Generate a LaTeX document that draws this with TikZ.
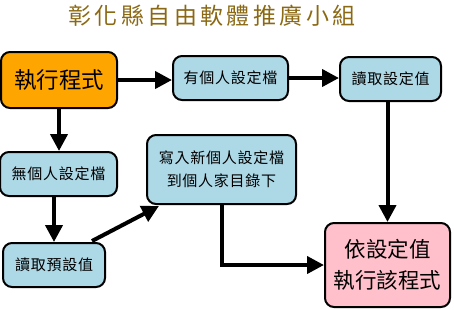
\documentclass[tikz,border=0pt]{standalone}
\usepackage{fontspec}
\setmainfont{Noto Sans CJK TC}
\usetikzlibrary{arrows.meta}
\definecolor{titlec}{HTML}{8B6914}
\definecolor{orangec}{HTML}{FFA500}
\definecolor{bluec}{HTML}{ADD8E6}
\definecolor{pinkc}{HTML}{FFC0CB}
\tikzset{
  box/.style={draw=black, line width=2pt, rounded corners=9pt, inner sep=0pt, align=center, text=black},
  smallbox/.style={box, fill=bluec, font=\fontsize{15}{23}\selectfont\addfontfeature{LetterSpace=5}},
  bigbox/.style={box, font=\fontsize{22.5}{31}\selectfont},
  conn/.style={line width=4pt, -{Triangle[length=17pt,width=17pt]}},
}
\begin{document}
\begin{tikzpicture}[x=1pt,y=-1pt]
\useasboundingbox (0,0) rectangle (454,309);
\node[text=titlec, font=\fontsize{23}{26}\selectfont\addfontfeature{LetterSpace=15}] (title) at (212,16) {彰化縣自由軟體推廣小組};
\node[bigbox, fill=orangec, minimum width=116pt, minimum height=56pt] (A) at (59,80) {執行程式};
\node[smallbox, minimum width=115pt, minimum height=44pt] (B) at (230.5,78) {有個人設定檔};
\node[smallbox, minimum width=101pt, minimum height=44pt] (C) at (390.5,79) {讀取設定值};
\node[smallbox, minimum width=117pt, minimum height=44pt] (D) at (58.5,174) {無個人設定檔};
\node[smallbox, minimum width=149pt, minimum height=69pt] (E) at (221.5,169.5) {寫入新個人設定檔\\到個人家目錄下};
\node[smallbox, minimum width=102pt, minimum height=44pt] (F) at (54,265) {讀取預設值};
\node[bigbox, fill=pinkc, minimum width=125pt, minimum height=84pt, font=\fontsize{21.5}{31}\selectfont] (G) at (387.5,265) {依設定值\\執行該程式};
\draw[conn] (A.east) -- (A.east -| B.west);
\draw[conn] (B.east) -- (B.east -| C.west);
\draw[conn] (C.south -| G.north) coordinate (c1) (c1 |- C.south) -- (G.north);
\draw[conn] (A.south) -- (A.south |- D.north);
\draw[conn] (D.south -| F.north) coordinate (d1) (d1 |- D.south) -- (F.north);
\draw[conn] ([xshift=-14pt,yshift=1pt]F.north east) -- ([xshift=13pt,yshift=-1pt]E.south west);
\draw[conn] (E.south) |- (G.west);
\end{tikzpicture}
\end{document}
